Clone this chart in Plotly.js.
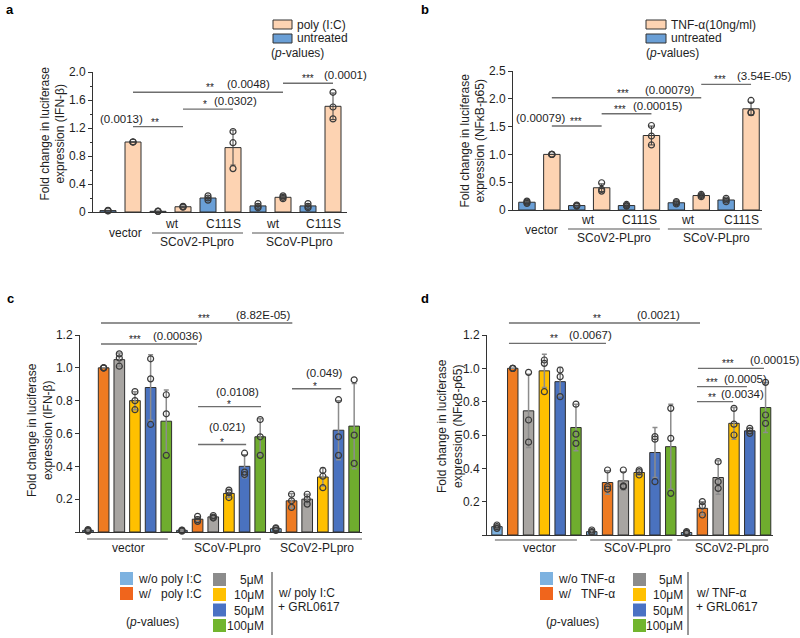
<!DOCTYPE html>
<html><head><meta charset="utf-8">
<script src="https://cdn.plot.ly/plotly-3.0.1.min.js"></script>
<style>html,body{margin:0;padding:0;background:#fff}#chart{width:800px;height:638px}</style>
</head><body><div id="chart"></div>
<script>
// ---------------- Panel a : IFN-beta, poly(I:C) ----------------
const aCats = ['vector|untreated','vector|poly','SCoV2 wt|untreated','SCoV2 wt|poly','SCoV2 C111S|untreated','SCoV2 C111S|poly','SCoV wt|untreated','SCoV wt|poly','SCoV C111S|untreated','SCoV C111S|poly'];
const aTreat = ['untreated','poly','untreated','poly','untreated','poly','untreated','poly','untreated','poly'];
const aMeans = [0.02, 1.0, 0.01, 0.075, 0.20, 0.92, 0.087, 0.21, 0.087, 1.51];
const aErr   = [0.005, 0, 0.003, 0.01, 0.03, 0.25, 0.03, 0.02, 0.03, 0.19];
const aDots  = [[0.015,0.02,0.025],[1,1,1],[0.008,0.01,0.012],[0.07,0.075,0.08],[0.17,0.20,0.23],[0.62,0.99,1.15],[0.06,0.08,0.12],[0.19,0.21,0.23],[0.06,0.08,0.12],[1.33,1.50,1.71]];
const aTickVals = [0,0.4,0.8,1.2,1.6,2.0];
const aTickText = ['0','0.4','0.8','1.2','1.6','2.0'];
const aPvals = ['(0.0013)','(0.0302)','(0.0048)','(0.0001)'];
const aStars = ['**','*','**','***'];

// ---------------- Panel b : NFkB-p65, TNF-alpha ----------------
const bCats = ['vector|untreated','vector|TNF','SCoV2 wt|untreated','SCoV2 wt|TNF','SCoV2 C111S|untreated','SCoV2 C111S|TNF','SCoV wt|untreated','SCoV wt|TNF','SCoV C111S|untreated','SCoV C111S|TNF'];
const bTreat = ['untreated','TNF','untreated','TNF','untreated','TNF','untreated','TNF','untreated','TNF'];
const bMeans = [0.14, 1.0, 0.08, 0.40, 0.08, 1.34, 0.13, 0.26, 0.18, 1.82];
const bErr   = [0.02, 0, 0.01, 0.07, 0.015, 0.17, 0.02, 0.02, 0.03, 0.12];
const bDots  = [[0.12,0.14,0.16],[1,1,1],[0.07,0.08,0.09],[0.34,0.37,0.49],[0.07,0.08,0.10],[1.17,1.33,1.52],[0.11,0.13,0.15],[0.24,0.26,0.28],[0.15,0.18,0.21],[1.75,1.76,1.97]];
const bTickVals = [0,0.5,1.0,1.5,2.0,2.5];
const bTickText = ['0','0.5','1.0','1.5','2.0','2.5'];
const bPvals = ['(0.00079)','(0.00015)','(0.00079)','(3.54E-05)'];
const bStars = ['***','***','***','***'];

// ---------------- Panel c : IFN-beta, GRL0617 ----------------
const cdGroups = ['vector','SCoV-PLpro','SCoV2-PLpro'];
const cdConds  = ['w/o','w/','5μM','10μM','50μM','100μM'];
const cMeans = [0.01,1.0,1.05,0.80,0.88,0.675, 0.01,0.078,0.092,0.235,0.40,0.58, 0.02,0.19,0.20,0.335,0.62,0.645];
const cErr   = [0.005,0,0.04,0.055,0.20,0.19, 0.005,0.015,0.01,0.025,0.07,0.11, 0.008,0.045,0.03,0.055,0.18,0.26];
const cDots  = [[0.005,0.01,0.015],[1,1,1],[1.01,1.06,1.085],[0.745,0.80,0.855],[0.655,0.933,1.055],[0.467,0.72,0.836],
                [0.005,0.01,0.012],[0.065,0.075,0.095],[0.085,0.09,0.10],[0.21,0.24,0.255],[0.35,0.365,0.48],[0.467,0.58,0.685],
                [0.01,0.02,0.025],[0.15,0.19,0.23],[0.17,0.20,0.23],[0.27,0.34,0.375],[0.467,0.58,0.806],[0.418,0.59,0.927]];
const cTickVals = [0,0.2,0.4,0.6,0.8,1.0,1.2];
const cTickText = ['','0.2','0.4','0.6','0.8','1.0','1.2'];
const cPvals = ['(8.82E-05)','(0.00036)','(0.0108)','(0.021)','(0.049)'];
const cStars = ['***','***','*','*','*'];

// ---------------- Panel d : NFkB-p65, GRL0617 ----------------
const dMeans = [0.05,1.0,0.745,0.985,0.92,0.645, 0.02,0.315,0.325,0.375,0.495,0.53, 0.015,0.16,0.345,0.67,0.625,0.765];
const dErr   = [0.01,0,0.22,0.10,0.085,0.14, 0.008,0.07,0.055,0.015,0.15,0.255, 0.005,0.04,0.10,0.095,0.015,0.15];
const dDots  = [[0.04,0.05,0.06],[1,1,1],[0.557,0.69,0.976],[0.86,1.03,1.05],[0.83,0.95,0.99],[0.55,0.605,0.785],
                [0.015,0.02,0.03],[0.275,0.29,0.39],[0.29,0.295,0.39],[0.36,0.38,0.39],[0.32,0.575,0.59],[0.25,0.58,0.76],
                [0.01,0.015,0.02],[0.12,0.175,0.20],[0.28,0.32,0.44],[0.60,0.665,0.76],[0.61,0.625,0.64],[0.67,0.72,0.916]];
const dTickVals = cTickVals;
const dTickText = cTickText;
const dPvals = ['(0.0021)','(0.0067)','(0.00015)','(0.0005)','(0.0034)'];
const dStars = ['**','**','***','***','**'];

// ---------------- styles ----------------
const FONT = 'Liberation Sans, Arial, Helvetica, sans-serif';
const TXT = '#1e1e1e';
const abColors = {untreated:'#6A9FD6', poly:'#FDD3B2', TNF:'#FDD3B2'};
const cdColors = ['#7DB1DF','#EE7B22','#A8A5A2','#FFC000','#4A72BF','#6FAD2E'];
const cdLegendColors = ['#7DB2E0','#F0651C','#8C8C8C','#FFC000','#4A72C4','#72B52E'];
const W = 800, H = 638;
const px = v => v / W;
const py = v => 1 - v / H;

const cdCats = [];
const cdBarColors = [];
cdGroups.forEach(g => cdConds.forEach((c, j) => { cdCats.push(g + '|' + c); cdBarColors.push(cdColors[j]); }));

function barTrace(cats, means, err, colors, xa, ya, w, ecol, eth){
  return {type:'bar', x:cats, y:means, width:w, xaxis:xa, yaxis:ya, showlegend:false, hoverinfo:'skip',
    marker:{color:colors, line:{color:'#2e2e2e', width:1}},
    error_y:{type:'data', array:err, visible:true, color:ecol, thickness:eth, width:2.5}};
}
function dotTrace(cats, dots, xa, ya){
  const x = [], y = [];
  cats.forEach((c, i) => dots[i].forEach(v => { x.push(c); y.push(v); }));
  return {type:'scatter', mode:'markers', x, y, xaxis:xa, yaxis:ya, showlegend:false, hoverinfo:'skip', cliponaxis:false,
    marker:{symbol:'circle-open', size:6, color:'#3a3a3a', line:{width:1.2}}};
}

const data = [
  barTrace(aCats, aMeans, aErr, aTreat.map(t => abColors[t]), 'x', 'y', 0.64, '#444', 1),
  dotTrace(aCats, aDots, 'x', 'y'),
  barTrace(bCats, bMeans, bErr, bTreat.map(t => abColors[t]), 'x2', 'y2', 0.66, '#444', 1),
  dotTrace(bCats, bDots, 'x2', 'y2'),
  barTrace(cdCats, cMeans, cErr, cdBarColors, 'x3', 'y3', 0.68, '#8c8c8c', 1.5),
  dotTrace(cdCats, cDots, 'x3', 'y3'),
  barTrace(cdCats, dMeans, dErr, cdBarColors, 'x4', 'y4', 0.66, '#8c8c8c', 1.5),
  dotTrace(cdCats, dDots, 'x4', 'y4')
];

function xAx(domain, range, anchor){
  return {domain, range, anchor, type:'category', showline:true, linecolor:'#333', linewidth:1,
    showticklabels:false, ticks:'', showgrid:false, zeroline:false, fixedrange:true};
}
function yAx(domain, range, anchor, vals, text, minor){
  const ax = {domain, range, anchor, tickmode:'array', tickvals:vals, ticktext:text, ticks:'outside', ticklen:4,
    tickcolor:'#333', showline:true, linecolor:'#333', linewidth:1, showgrid:false, zeroline:false, fixedrange:true,
    tickfont:{family:FONT, size:12, color:TXT}};
  if (minor) ax.minor = {tickmode:'linear', tick0:0, dtick:minor, ticks:'outside', ticklen:2.5, tickcolor:'#333', showgrid:false};
  return ax;
}

const shapes = [], annotations = [];
function txt(xref, yref, x, y, text, opts){
  annotations.push(Object.assign({xref, yref, x, y, text, showarrow:false, xanchor:'center', yanchor:'middle',
    font:{family:FONT, size:11.5, color:TXT}}, opts || {}));
}
function hline(xref, yref, x0, x1, y, color, width){
  shapes.push({type:'line', xref, yref, x0, x1, y0:y, y1:y, line:{color:color || '#6e6e6e', width:width || 1.4}});
}
// significance bracket: line + stars + p-value
function sig(xa, ya, x0, x1, y, stars, p, sx, pxPos, panchor, pshift, sshift){
  hline(xa, ya, x0, x1, y);
  txt(xa, ya, sx, y, stars, {yanchor:'bottom', yshift: sshift === undefined ? -3 : sshift, font:{family:FONT, size:10, color:TXT}});
  txt(xa, ya, pxPos, y, p, {xanchor:panchor, yanchor:'bottom', yshift: pshift || 0});
}

// panel a brackets
sig('x','y', 1, 3, 1.22, aStars[0], aPvals[0], 1.88, 1.48, 'right', 0);
sig('x','y', 3, 5, 1.47, aStars[1], aPvals[1], 3.88, 4.16, 'left', 0);
sig('x','y', 1, 7, 1.71, aStars[2], aPvals[2], 4.08, 4.68, 'left', 0);
sig('x','y', 7, 9, 1.84, aStars[3], aPvals[3], 8.0, 8.56, 'left', 0);
// panel b brackets
sig('x2','y2', 1, 3, 1.51, bStars[0], bPvals[0], 1.95, 1.62, 'right', 0);
sig('x2','y2', 3, 5, 1.73, bStars[1], bPvals[1], 3.73, 4.18, 'left', 0);
sig('x2','y2', 1, 7, 2.02, bStars[2], bPvals[2], 3.86, 4.66, 'left', 0);
sig('x2','y2', 7, 9, 2.26, bStars[3], bPvals[3], 7.75, 8.35, 'left', 0);
// panel c brackets (top one lies above the axis range -> paper y)
sig('x3','paper', 0.83, 13.05, py(323), cStars[0], cPvals[0], 7.41, 9.33, 'left', 0);
sig('x3','y3', 0.83, 6.96, 1.145, cStars[1], cPvals[1], 3.0, 4.03, 'left', 0);
sig('x3','y3', 7.03, 11.05, 0.764, cStars[2], cPvals[2], 9.0, 9.52, 'center', 7, -5);
sig('x3','y3', 7.03, 10.1, 0.533, cStars[3], cPvals[3], 8.56, 8.88, 'center', 10, -5);
sig('x3','y3', 13.03, 16.17, 0.873, cStars[4], cPvals[4], 14.5, 15.08, 'center', 8, -5);
// panel d brackets
sig('x4','paper', 0.76, 12.85, py(323), dStars[0], dPvals[0], 6.33, 8.73, 'left', 0);
sig('x4','y4', 0.76, 6.9, 1.15, dStars[1], dPvals[1], 3.6, 4.43, 'left', 0);
sig('x4','y4', 12.72, 16.9, 1.0, dStars[2], dPvals[2], 14.6, 15.89, 'left', 0);
sig('x4','y4', 12.66, 15.82, 0.89, dStars[3], dPvals[3], 13.6, 14.24, 'left', 0);
sig('x4','y4', 12.66, 14.94, 0.80, dStars[4], dPvals[4], 13.6, 14.05, 'left', 0);

// y-axis titles
const TF = {family:FONT, size:12, color:TXT};
function ytitle(x, y, text){ txt('paper','paper', px(x), py(y), text, {textangle:-90, font:TF}); }
ytitle(52.5, 134, 'Fold change in luciferase<br>expression (IFN-β)');
ytitle(472.5, 140, 'Fold change in luciferase<br>expression (NFκB-p65)');
ytitle(40, 430, 'Fold change in luciferase<br>expression (IFN-β)');
ytitle(450, 426, 'Fold change in luciferase<br>expression (NFκB-p65)');

// x-axis labels and group underlines (a)
const LF = {family:FONT, size:12, color:TXT};
txt('x','paper', 0.7, py(233), 'vector', {font:LF});
txt('x','paper', 2.55, py(224), 'wt', {font:LF});
txt('x','paper', 4.6, py(224), 'C111S', {font:LF});
txt('x','paper', 6.6, py(224), 'wt', {font:LF});
txt('x','paper', 8.6, py(224), 'C111S', {font:LF});
hline('x','paper', 1.76, 5.4, py(233), '#555', 1.2);
hline('x','paper', 5.76, 9.44, py(233), '#555', 1.2);
txt('x','paper', 3.56, py(242), 'SCoV2-PLpro', {font:LF});
txt('x','paper', 7.64, py(242), 'SCoV-PLpro', {font:LF});
// (b)
txt('x2','paper', 0.6, py(230), 'vector', {font:LF});
txt('x2','paper', 2.45, py(220), 'wt', {font:LF});
txt('x2','paper', 4.54, py(220), 'C111S', {font:LF});
txt('x2','paper', 6.47, py(220), 'wt', {font:LF});
txt('x2','paper', 8.6, py(220), 'C111S', {font:LF});
hline('x2','paper', 1.65, 5.34, py(229), '#555', 1.2);
hline('x2','paper', 5.66, 9.44, py(229), '#555', 1.2);
txt('x2','paper', 3.5, py(238), 'SCoV2-PLpro', {font:LF});
txt('x2','paper', 7.63, py(238), 'SCoV-PLpro', {font:LF});
// (c)
hline('x3','paper', -0.06, 5.1, py(539), '#555', 1.2);
hline('x3','paper', 6.0, 11.05, py(539), '#555', 1.2);
hline('x3','paper', 11.6, 17.5, py(539), '#555', 1.2);
txt('x3','paper', 2.6, py(548), cdGroups[0], {font:LF});
txt('x3','paper', 8.9, py(548), cdGroups[1], {font:LF});
txt('x3','paper', 14.6, py(548), cdGroups[2], {font:LF});
// (d)
hline('x4','paper', -0.13, 5.06, py(540), '#555', 1.2);
hline('x4','paper', 5.9, 11.1, py(540), '#555', 1.2);
hline('x4','paper', 11.4, 17.15, py(540), '#555', 1.2);
txt('x4','paper', 2.7, py(548), cdGroups[0], {font:LF});
txt('x4','paper', 8.9, py(548), cdGroups[1], {font:LF});
txt('x4','paper', 14.9, py(548), cdGroups[2], {font:LF});

// panel letters
const PL = {family:FONT, size:13, color:'#000'};
txt('paper','paper', px(10), py(9), '<b>a</b>', {font:PL});
txt('paper','paper', px(425), py(9), '<b>b</b>', {font:PL});
txt('paper','paper', px(10), py(298), '<b>c</b>', {font:PL});
txt('paper','paper', px(425), py(298), '<b>d</b>', {font:PL});

// legend helpers
function rect(x0, y0, x1, y1, fill, line){
  shapes.push({type:'rect', xref:'paper', yref:'paper', x0:px(x0), x1:px(x1), y0:py(y1), y1:py(y0),
    fillcolor:fill, line:{color:line || fill, width:line ? 1 : 0}});
}
function ltxt(x, y, text, anchor){ txt('paper','paper', px(x), py(y), text, {xanchor:anchor || 'left', font:LF}); }

// legend a
rect(273, 20, 292, 29, abColors.poly, '#333'); ltxt(295, 25, 'poly (I:C)');
rect(273, 34, 292, 43, abColors.untreated, '#333'); ltxt(295, 38.5, 'untreated');
ltxt(269, 53, '(<i>p</i>-values)');
// legend b
rect(646, 20, 666, 29, abColors.TNF, '#333'); ltxt(669, 25, 'TNF-α(10ng/ml)');
rect(646, 34, 666, 43, abColors.untreated, '#333'); ltxt(669, 38.5, 'untreated');
ltxt(644, 53, '(<i>p</i>-values)');

// legends c and d
function cdLegend(x0, sx, lx, vx, tx, label){
  rect(x0, 572, x0 + 13, 585, cdLegendColors[0]); ltxt(x0 + 16, 578.5, 'w/o ' + label);
  rect(x0, 587, x0 + 13, 600, cdLegendColors[1]); ltxt(x0 + 16, 593.5, 'w/\u00a0\u00a0\u00a0' + label);
  ltxt(x0 + 32, 622, '(<i>p</i>-values)', 'center');
  const ys = [573, 588, 603.5, 619];
  cdConds.slice(2).forEach((c, i) => {
    rect(sx, ys[i], sx + 13, ys[i] + 13, cdLegendColors[i + 2]);
    ltxt(lx, ys[i] + 7, c, 'right');
  });
  shapes.push({type:'line', xref:'paper', yref:'paper', x0:px(vx), x1:px(vx), y0:py(572), y1:py(635), line:{color:'#333', width:1}});
  ltxt(tx, 593, 'w/ ' + label);
  ltxt(tx, 607, '+ GRL0617');
}
cdLegend(120, 213, 266, 272, 276, 'poly I:C');
cdLegend(540, 633, 685, 688, 694, 'TNF-α');

const layout = {
  width: W, height: H, margin:{l:0, r:0, t:0, b:0}, paper_bgcolor:'#fff', plot_bgcolor:'rgba(0,0,0,0)',
  font:{family:FONT, size:12, color:TXT}, showlegend:false, barmode:'overlay',
  xaxis:  xAx([px(93),  px(347)], [-0.6, 9.56], 'y'),
  yaxis:  yAx([py(212), py(72)], [0, 2.0], 'x', aTickVals, aTickText, 0.2),
  xaxis2: xAx([px(513), px(762)], [-0.56, 9.44], 'y2'),
  yaxis2: yAx([py(210), py(71)], [0, 2.5], 'x2', bTickVals, bTickText, null),
  xaxis3: xAx([px(80),  px(362)], [-0.51, 17.5], 'y3'),
  yaxis3: yAx([py(532), py(335)], [0, 1.2], 'x3', cTickVals, cTickText, null),
  xaxis4: xAx([px(487), px(773)], [-0.63, 17.47], 'y4'),
  yaxis4: yAx([py(535), py(335)], [0, 1.2], 'x4', dTickVals, dTickText, null),
  shapes, annotations
};

Plotly.newPlot('chart', data, layout, {staticPlot:true, displayModeBar:false});
</script>
</body></html>
